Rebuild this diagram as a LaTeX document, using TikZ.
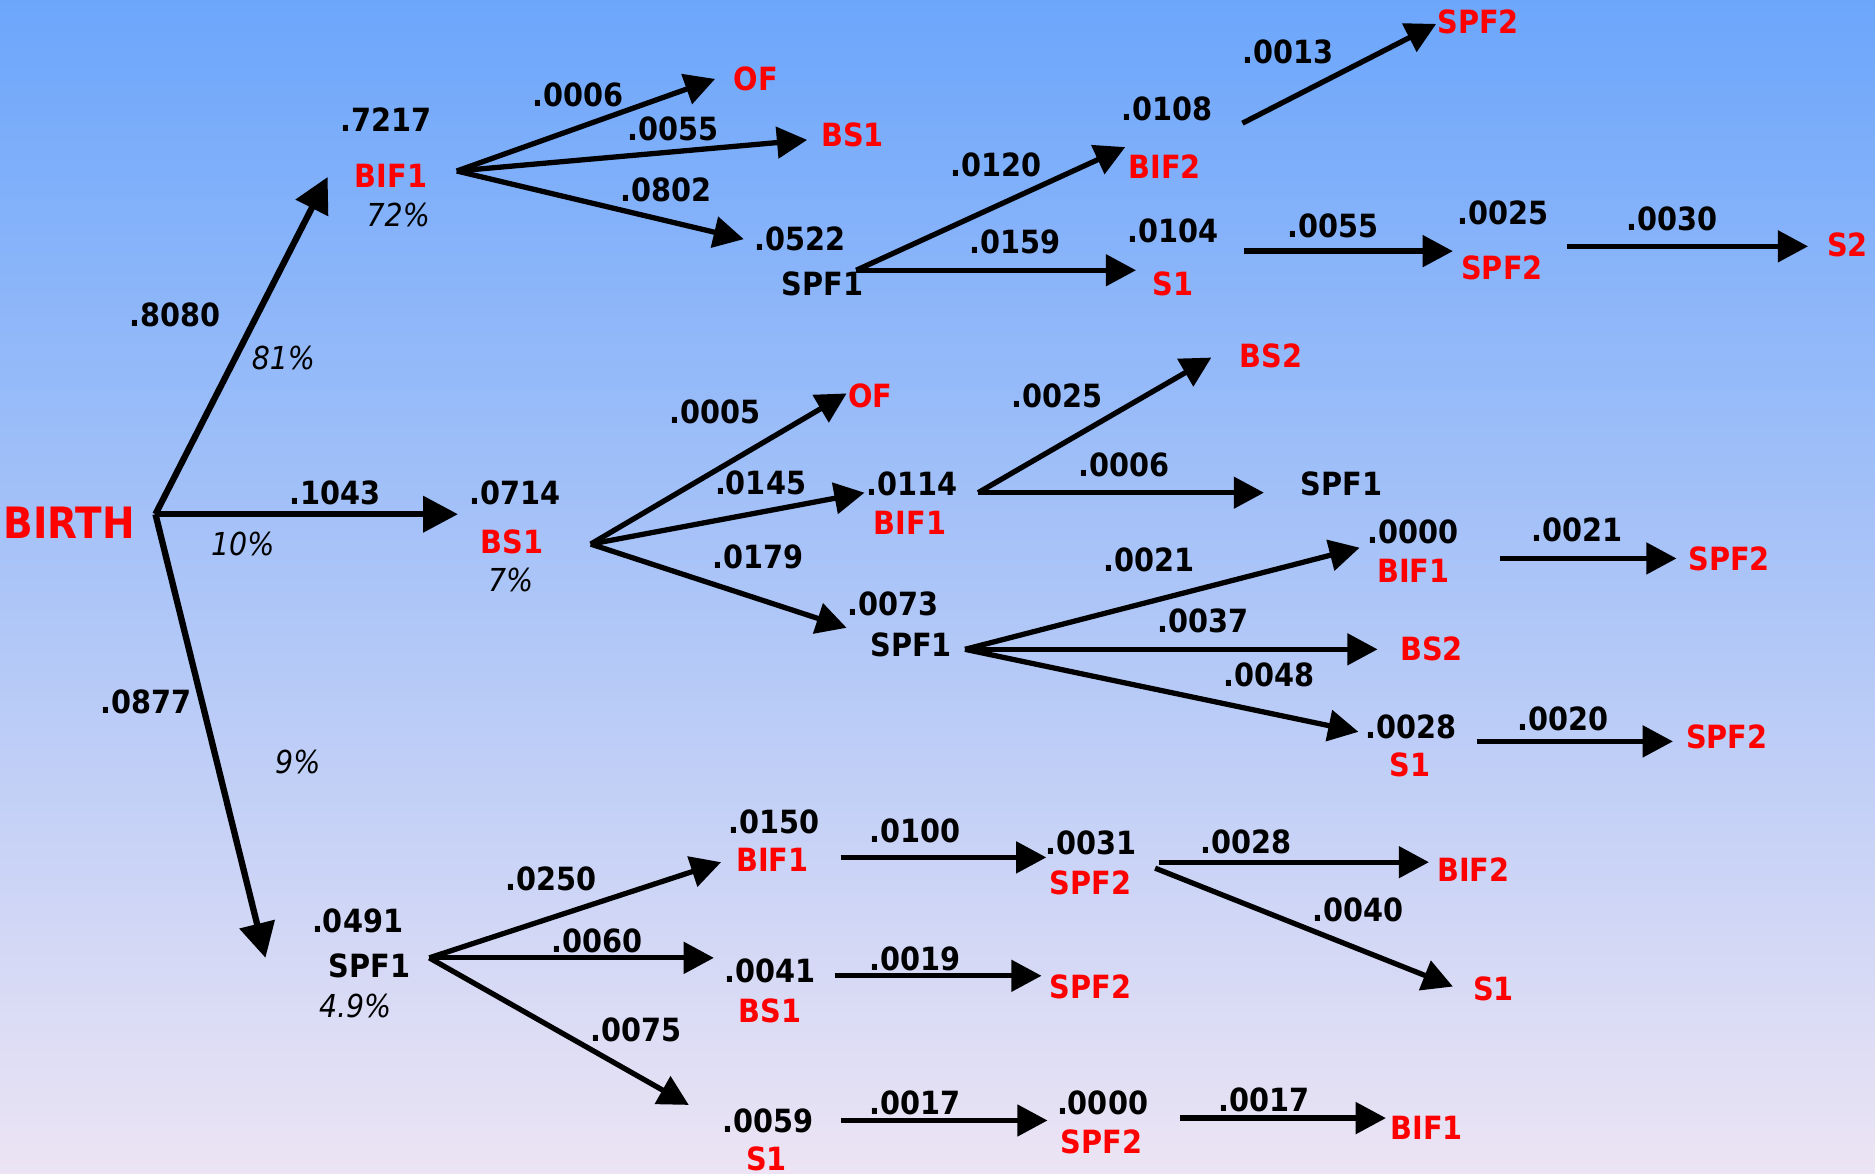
\documentclass[tikz,border=0pt]{standalone}
\usepackage{fontspec}
\usetikzlibrary{arrows.meta}
\newfontfamily\lab{DejaVu Sans Condensed}[BoldFont={DejaVu Sans Condensed Bold},ItalicFont={DejaVu Sans Condensed Oblique}]
\definecolor{skytop}{RGB}{108,166,251}
\definecolor{skymid}{RGB}{168,198,240}
\definecolor{skybot}{RGB}{236,228,244}
\definecolor{statered}{RGB}{255,0,0}
\tikzset{
  num/.style={inner sep=0pt, text=black, font=\lab\bfseries\fontsize{9.1}{11}\selectfont},
  st/.style={inner sep=0pt, text=statered, font=\lab\bfseries\fontsize{9.1}{11}\selectfont},
  stk/.style={inner sep=0pt, text=black, font=\lab\bfseries\fontsize{9.1}{11}\selectfont},
  pct/.style={inner sep=0pt, text=black, font=\lab\itshape\fontsize{9}{11}\selectfont},
  arr/.style={line width=1.5pt, -{Triangle[length=8.6pt,width=8.8pt]}},
  bigarr/.style={line width=1.8pt, -{Triangle[length=9.9pt,width=10pt]}}
}
\begin{document}
\begin{tikzpicture}[x=0.011958cm, y=-0.011958cm]
% backdrop
\shade[top color=skytop, middle color=skymid, bottom color=skybot] (0,0) rectangle (1568,981);
\useasboundingbox (0,0) rectangle (1568,981);

% ---- root ----
\node[st, font=\lab\bfseries\fontsize{12.3}{14}\selectfont] (birth) at (58,437) {BIRTH};
\coordinate (birth-o) at (130,430);

% ---- first level ----
\node[num] (p8080) at (146,263) {.8080};
\node[pct] (c81) at (237,299) {81\%};
\node[num] (p1043) at (280,412) {.1043};
\node[pct] (c10) at (203,455) {10\%};
\node[num] (p0877) at (122,587) {.0877};
\node[pct] (c9) at (249,637) {9\%};

\node[num] (v7217) at (323,100) {.7217};
\node[st] (bif1a) at (327,147) {BIF1};
\node[pct] (c72) at (333,180) {72\%};
\coordinate (bif1a-i) at (274,148);
\coordinate (bif1a-o) at (382,143);

\node[num] (v0714) at (431,412) {.0714};
\node[st] (bs1a) at (428,453) {BS1};
\node[pct] (c7) at (427,485) {7\%};
\coordinate (bs1a-i) at (383,430);
\coordinate (bs1a-o) at (494,455);

\node[num] (v0491) at (299,770) {.0491};
\node[stk] (spf1c) at (309,808) {SPF1};
\node[pct] (c49) at (297,841) {4.9\%};
\coordinate (spf1c-i) at (222,801);
\coordinate (spf1c-o) at (359,801);

\draw[bigarr] (birth-o) -- (bif1a-i);
\draw[bigarr] (birth-o) -- (bs1a-i);
\draw[bigarr] (birth-o) -- (spf1c-i);

% ---- BIF1 branch ----
\node[num] (p0006a) at (483,79) {.0006};
\node[st] (ofa) at (632,66) {OF};
\node[num] (p0055a) at (563,108) {.0055};
\node[st] (bs1b) at (713,113) {BS1};
\node[num] (p0802) at (557,159) {.0802};
\node[num] (v0522) at (669,200) {.0522};
\node[stk] (spf1a) at (688,237) {SPF1};
\coordinate (ofa-i) at (598,66);
\coordinate (bs1b-i) at (675,117);
\coordinate (spf1a-i) at (622,200);
\coordinate (spf1a-o) at (716,226);
\draw[arr] (bif1a-o) -- (ofa-i);
\draw[arr] (bif1a-o) -- (bs1b-i);
\draw[arr] (bif1a-o) -- (spf1a-i);

\node[num] (p0120) at (833,138) {.0120};
\node[num] (v0108) at (976,91) {.0108};
\node[st] (bif2a) at (974,139) {BIF2};
\node[num] (p0159) at (849,202) {.0159};
\node[num] (v0104) at (981,193) {.0104};
\node[st] (s1a) at (981,237) {S1};
\coordinate (bif2a-i) at (941,123);
\coordinate (bif2a-o) at (1039,103);
\coordinate (s1a-i) at (950,226);
\coordinate (s1a-o) at (1040,210);
\draw[arr] (spf1a-o) -- (bif2a-i);
\draw[arr] (spf1a-o) -- (s1a-i);

\node[num] (p0013) at (1077,43) {.0013};
\node[st] (spf2a) at (1236,18) {SPF2};
\coordinate (spf2a-i) at (1201,20);
\draw[arr] (bif2a-o) -- (spf2a-i);

\node[num] (p0055b) at (1115,189) {.0055};
\node[num] (v0025) at (1257,178) {.0025};
\node[st] (spf2b) at (1256,224) {SPF2};
\coordinate (spf2b-i) at (1215,210);
\coordinate (spf2b-o) at (1310,206);
\draw[arr] (s1a-o) -- (spf2b-i);

\node[num] (p0030) at (1398,183) {.0030};
\node[st] (s2a) at (1545,205) {S2};
\coordinate (s2a-i) at (1512,206);
\draw[arr] (spf2b-o) -- (s2a-i);

% ---- BS1 branch ----
\node[num] (p0005) at (598,344) {.0005};
\node[st] (ofb) at (728,331) {OF};
\node[num] (p0145) at (636,404) {.0145};
\node[num] (v0114) at (763,405) {.0114};
\node[st] (bif1b) at (761,437) {BIF1};
\node[num] (p0179) at (634,466) {.0179};
\node[num] (v0073) at (747,505) {.0073};
\node[stk] (spf1b) at (762,539) {SPF1};
\coordinate (ofb-i) at (708,329);
\coordinate (bif1b-i) at (723,412);
\coordinate (bif1b-o) at (818,412);
\coordinate (spf1b-i) at (708,525);
\coordinate (spf1b-o) at (807,543);
\draw[arr] (bs1a-o) -- (ofb-i);
\draw[arr] (bs1a-o) -- (bif1b-i);
\draw[arr] (bs1a-o) -- (spf1b-i);

\node[num] (p0025) at (884,331) {.0025};
\node[st] (bs2a) at (1063,298) {BS2};
\node[num] (p0006b) at (940,389) {.0006};
\node[stk] (spf1d) at (1122,405) {SPF1};
\coordinate (bs2a-i) at (1013,299);
\coordinate (spf1d-i) at (1057,412);
\draw[arr] (bif1b-o) -- (bs2a-i);
\draw[arr] (bif1b-o) -- (spf1d-i);

\node[num] (p0021a) at (961,468) {.0021};
\node[num] (v0000a) at (1182,445) {.0000};
\node[st] (bif1c) at (1182,477) {BIF1};
\node[num] (p0037) at (1006,519) {.0037};
\node[st] (bs2b) at (1197,543) {BS2};
\node[num] (p0048) at (1061,564) {.0048};
\node[num] (v0028a) at (1180,608) {.0028};
\node[st] (s1b) at (1179,640) {S1};
\coordinate (bif1c-i) at (1137,458);
\coordinate (bif1c-o) at (1254,467);
\coordinate (bs2b-i) at (1152,543);
\coordinate (s1b-i) at (1136,612);
\coordinate (s1b-o) at (1235,620);
\draw[arr] (spf1b-o) -- (bif1c-i);
\draw[arr] (spf1b-o) -- (bs2b-i);
\draw[arr] (spf1b-o) -- (s1b-i);

\node[num] (p0021b) at (1319,443) {.0021};
\node[st] (spf2c) at (1446,467) {SPF2};
\coordinate (spf2c-i) at (1402,467);
\draw[arr] (bif1c-o) -- (spf2c-i);

\node[num] (p0020) at (1307,601) {.0020};
\node[st] (spf2d) at (1444,616) {SPF2};
\coordinate (spf2d-i) at (1399,620);
\draw[arr] (s1b-o) -- (spf2d-i);

% ---- SPF1 branch ----
\node[num] (p0250) at (461,735) {.0250};
\node[num] (v0150) at (647,687) {.0150};
\node[st] (bif1d) at (646,719) {BIF1};
\node[num] (p0060) at (499,787) {.0060};
\node[num] (v0041) at (644,812) {.0041};
\node[st] (bs1c) at (644,845) {BS1};
\node[num] (p0075) at (532,861) {.0075};
\node[num] (v0059) at (642,937) {.0059};
\node[st] (s1c) at (641,969) {S1};
\coordinate (bif1d-i) at (603,721);
\coordinate (bif1d-o) at (703,717);
\coordinate (bs1c-i) at (597,801);
\coordinate (bs1c-o) at (698,816);
\coordinate (s1c-i) at (576,924);
\coordinate (s1c-o) at (703,937);
\draw[arr] (spf1c-o) -- (bif1d-i);
\draw[arr] (spf1c-o) -- (bs1c-i);
\draw[arr] (spf1c-o) -- (s1c-i);

\node[num] (p0100) at (765,695) {.0100};
\node[num] (v0031) at (912,705) {.0031};
\node[st] (spf2e) at (912,738) {SPF2};
\coordinate (spf2e-i) at (875,717);
\coordinate (spf2e-o1) at (969,721);
\coordinate (spf2e-o2) at (966,726);
\draw[arr] (bif1d-o) -- (spf2e-i);

\node[num] (p0028) at (1042,704) {.0028};
\node[st] (bif2b) at (1232,727) {BIF2};
\node[num] (p0040) at (1136,761) {.0040};
\node[st] (s1d) at (1249,827) {S1};
\coordinate (bif2b-i) at (1195,721);
\coordinate (s1d-i) at (1215,825);
\draw[arr] (spf2e-o1) -- (bif2b-i);
\draw[arr] (spf2e-o2) -- (s1d-i);

\node[num] (p0019) at (765,802) {.0019};
\node[st] (spf2f) at (912,825) {SPF2};
\coordinate (spf2f-i) at (871,816);
\draw[arr] (bs1c-o) -- (spf2f-i);

\node[num] (p0017a) at (765,922) {.0017};
\node[num] (v0000b) at (922,922) {.0000};
\node[st] (spf2g) at (921,955) {SPF2};
\coordinate (spf2g-i) at (876,937);
\coordinate (spf2g-o) at (987,935);
\draw[arr] (s1c-o) -- (spf2g-i);

\node[num] (p0017b) at (1057,920) {.0017};
\node[st] (bif1e) at (1193,943) {BIF1};
\coordinate (bif1e-i) at (1159,935);
\draw[arr] (spf2g-o) -- (bif1e-i);
\end{tikzpicture}
\end{document}
